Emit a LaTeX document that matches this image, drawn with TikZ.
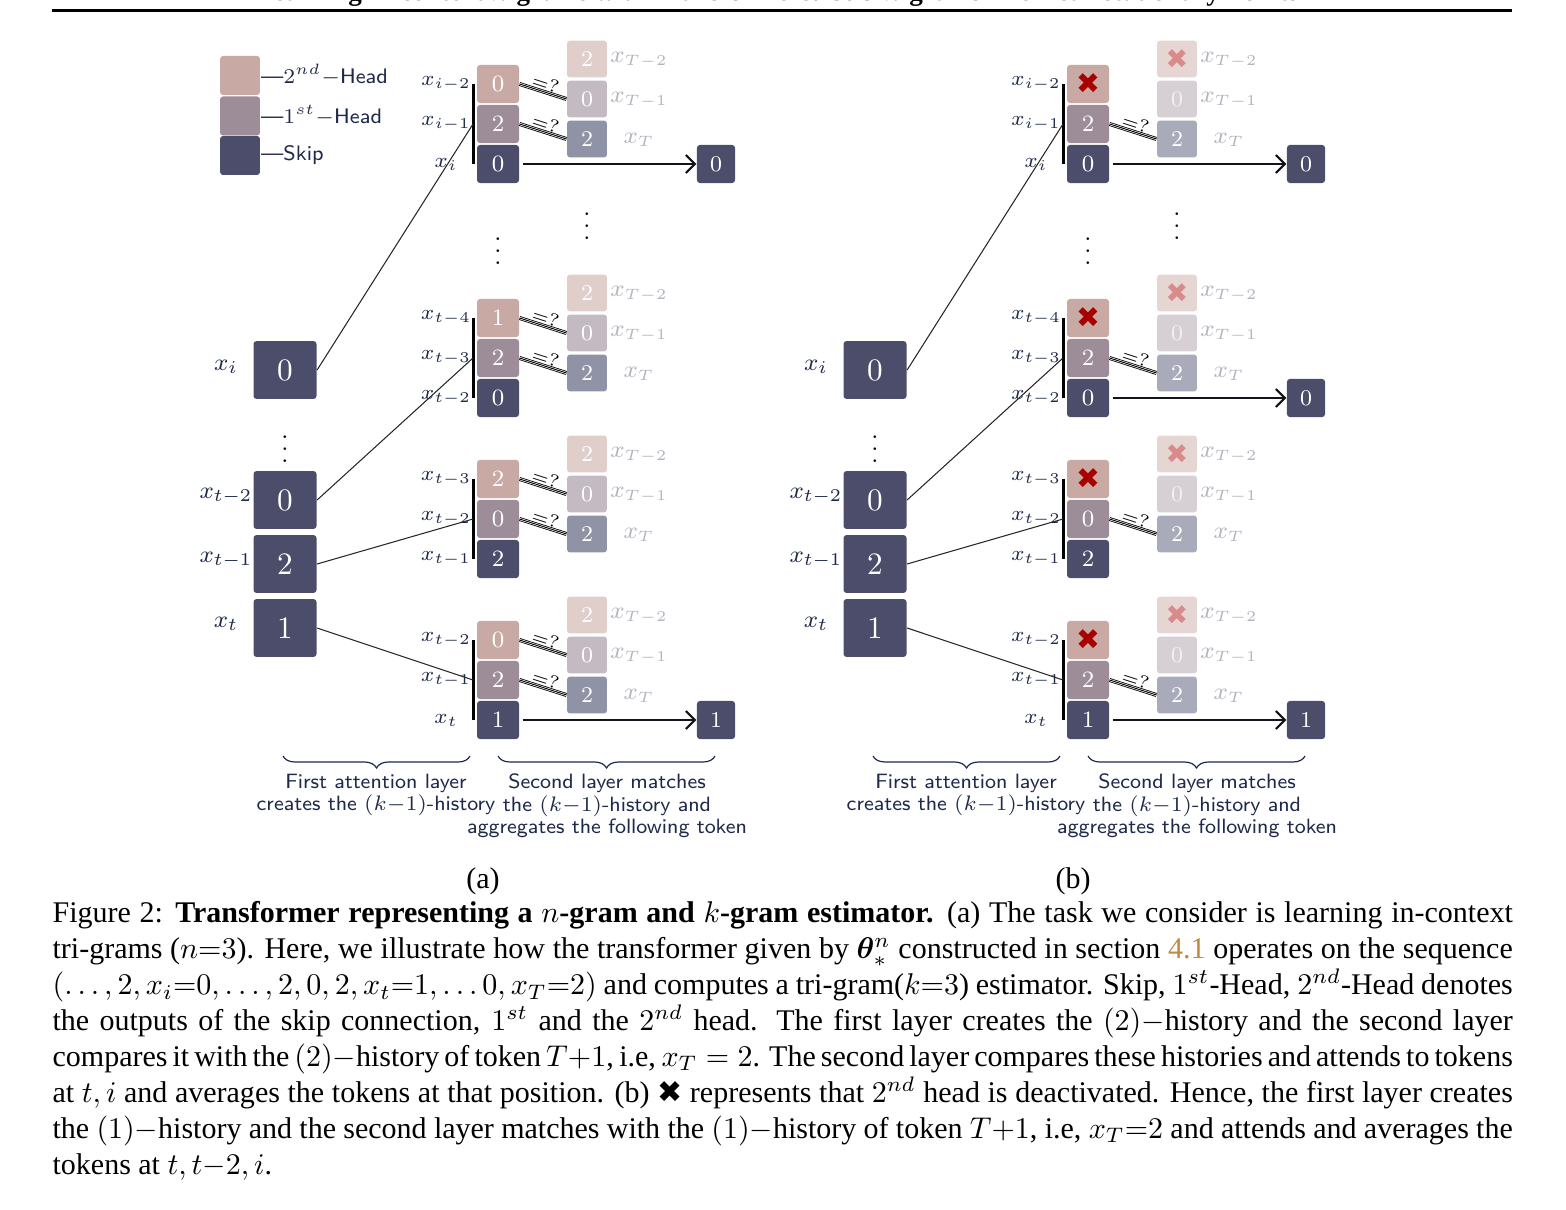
\documentclass[tikz,border=0pt]{standalone}
\usepackage{fontspec}
\usepackage{amsmath,bm}
\newfontfamily\capfont{Liberation Serif}
\newfontfamily\symfont{DejaVu Sans}
\usetikzlibrary{decorations.pathreplacing,arrows.meta}
\definecolor{headtwo}{HTML}{C8A9A3}
\definecolor{headone}{HTML}{9C8D98}
\definecolor{skipc}{HTML}{4B4D6A}
\definecolor{navy}{HTML}{1F2A4A}
\definecolor{qtwoa}{HTML}{E0CECB}
\definecolor{qonea}{HTML}{C4BBC2}
\definecolor{qskipa}{HTML}{9092A5}
\definecolor{qtwob}{HTML}{E5D6D4}
\definecolor{qoneb}{HTML}{D6CFD4}
\definecolor{qskipb}{HTML}{AAABBA}
\definecolor{xred}{HTML}{A80000}
\definecolor{xpink}{HTML}{D98A8A}
\definecolor{labgray}{HTML}{B4B4C0}
\definecolor{linkc}{HTML}{C08A3E}
\begin{document}
\begin{tikzpicture}[x=0.3333pt,y=-0.3333pt,
  box/.style={rounded corners=1pt, inner sep=0pt, text=white},
  mainbox/.style={box, minimum width=14pt, minimum height=12.7pt, font=\fontsize{7.8}{8}\selectfont},
  qbox/.style={box, minimum width=13.3pt, minimum height=12.3pt, font=\fontsize{7.5}{8}\selectfont},
  outbox/.style={box, fill=skipc, minimum width=12.7pt, minimum height=12.7pt, font=\fontsize{7.5}{8}\selectfont},
  seqbox/.style={box, fill=skipc, minimum width=21pt, minimum height=19.3pt, font=\fontsize{10.4}{12}\selectfont},
  keybox/.style={box, minimum width=13.3pt, minimum height=13pt},
  keylab/.style={anchor=west, inner sep=0pt, text=navy, font=\sffamily\fontsize{7}{8}\selectfont},
  lab/.style={text=navy, inner sep=0pt, font=\fontsize{7.4}{8}\selectfont},
  seqlab/.style={text=navy, inner sep=0pt, font=\fontsize{8.2}{9}\selectfont},
  qlab/.style={text=labgray, inner sep=0pt, font=\fontsize{7.8}{9}\selectfont},
  note/.style={text=navy, inner sep=0pt, font=\sffamily\fontsize{6.9}{7.5}\selectfont, align=center},
  hbar/.style={line width=1pt, black},
  link/.style={line width=0.35pt, black!85},
  match/.style={line width=1.3pt, black, postaction={draw=white, line width=0.75pt}, postaction={draw=black, line width=0.3pt}},
  eqq/.style={sloped, above, inner sep=0.6pt, font=\fontsize{6}{6}\selectfont},
  skiparrow/.style={line width=0.7pt, black!75!skipc, shorten <=1pt, -{Straight Barb[length=3pt,width=6pt]}},
  crossbig/.style={font=\symfont\fontsize{9.5}{10}\selectfont, text=xred},
  crossfade/.style={font=\symfont\fontsize{9}{10}\selectfont, text=xpink},
  brc/.style={decorate, decoration={brace, mirror, amplitude=4pt}, line width=0.4pt, navy},
  dots/.style={inner sep=0pt, font=\fontsize{8}{9}\selectfont}]
\useasboundingbox (0,0) rectangle (1566,1209);

% page head
\node[anchor=base, inner sep=0pt, font=\capfont\bfseries\fontsize{9}{10}\selectfont] (head) at (777,1)
  {Learning in-context $n$-grams with Transformers: Sub-$n$-grams Are Near-stationary Points};
\draw[line width=1pt] (52,11) -- (1512,11);

% legend
\node[keybox, fill=headtwo] (key2) at (240,75.5) {};
\node[keybox, fill=headone] (key1) at (240,116) {};
\node[keybox, fill=skipc] (key0) at (240,155.5) {};
\node[keylab] (key2t) at (key2.east) {---$2^{nd}-$Head};
\node[keylab] (key1t) at (key1.east) {---$1^{st}-$Head};
\node[keylab] (key0t) at (key0.east) {---Skip};

% ---------- (a) ----------
\node[seqbox] (aseq1) at (285,370) {0};
\node[seqbox] (aseq2) at (285,500) {0};
\node[seqbox] (aseq3) at (285,564) {2};
\node[seqbox] (aseq4) at (285,628) {1};
\node[seqlab] at (226,367) {$x_i$};
\node[seqlab] at (226,496) {$x_{t-2}$};
\node[seqlab] at (226,560) {$x_{t-1}$};
\node[seqlab] at (226,624) {$x_t$};
\node[dots] (adots0) at (285,440) {$\vdots$};
\node[dots] (adots1) at (498,242) {$\vdots$};
\node[dots] (adots2) at (587,217) {$\vdots$};

\foreach \s/\y/\va/\vb/\vc/\la/\lb/\lc in
  {1/84/0/2/0/{i-2}/{i-1}/{i}, 2/318/1/2/0/{t-4}/{t-3}/{t-2},
   3/479/2/0/2/{t-3}/{t-2}/{t-1}, 4/640/0/2/1/{t-2}/{t-1}/{t}}{
  \node[mainbox, fill=headtwo] (a\s h2) at (498,\y) {\va};
  \node[mainbox, fill=headone] (a\s h1) at (498,\y+40) {\vb};
  \node[mainbox, fill=skipc] (a\s sk) at (498,\y+80) {\vc};
  \node[lab] at (446,\y) {$x_{\la}$};
  \node[lab] at (446,\y+40) {$x_{\lb}$};
  \node[lab] at (446,\y+80) {$x_{\lc}$};
  \coordinate (a\s top) at (473,\y);
  \coordinate (a\s mid) at (473,\y+40);
  \coordinate (a\s bot) at (473,\y+80);
  \draw[hbar] (a\s top) -- (a\s bot);
  \node[qbox, fill=qtwoa] (a\s q2) at (587,\y-25) {2};
  \node[qbox, fill=qonea] (a\s q1) at (587,\y+15) {0};
  \node[qbox, fill=qskipa] (a\s q0) at (587,\y+55) {2};
  \node[qlab] at (639,\y-24) {$x_{T-2}$};
  \node[qlab] at (639,\y+16) {$x_{T-1}$};
  \node[qlab] at (639,\y+56) {$x_T$};
  \draw[match] (a\s h2.east) -- (a\s q1.west);
  \draw[match] (a\s h1.east) -- (a\s q0.west);
  \path (a\s h2.east) -- node[eqq] {$=?$} (a\s q1.west);
  \path (a\s h1.east) -- node[eqq] {$=?$} (a\s q0.west);
  \draw[link] (aseq\s.east) -- (a\s mid);
}
\node[outbox] (a1out) at (716,164) {0};
\node[outbox] (a4out) at (716,720) {1};
\draw[skiparrow] (a1sk.east) -- (a1out.west);
\draw[skiparrow] (a4sk.east) -- (a4out.west);

\draw[brc] (283,756) -- (470,756);
\draw[brc] (498,756) -- (715,756);
\node[note] (anote1) at (376,795) {First attention layer\\creates the $(k{-}1)$-history};
\node[note] (anote2) at (607,806) {Second layer matches\\the $(k{-}1)$-history and\\aggregates the following token};
\node[font=\capfont\fontsize{10}{12}\selectfont] (alab) at (483,881) {(a)};

% ---------- (b) ----------
\node[seqbox] (bseq1) at (875,370) {0};
\node[seqbox] (bseq2) at (875,500) {0};
\node[seqbox] (bseq3) at (875,564) {2};
\node[seqbox] (bseq4) at (875,628) {1};
\node[seqlab] at (816,367) {$x_i$};
\node[seqlab] at (816,496) {$x_{t-2}$};
\node[seqlab] at (816,560) {$x_{t-1}$};
\node[seqlab] at (816,624) {$x_t$};
\node[dots] (bdots0) at (875,440) {$\vdots$};
\node[dots] (bdots1) at (1088,242) {$\vdots$};
\node[dots] (bdots2) at (1177,217) {$\vdots$};

\foreach \s/\y/\vb/\vc/\la/\lb/\lc in
  {1/84/2/0/{i-2}/{i-1}/{i}, 2/318/2/0/{t-4}/{t-3}/{t-2},
   3/479/0/2/{t-3}/{t-2}/{t-1}, 4/640/2/1/{t-2}/{t-1}/{t}}{
  \node[mainbox, fill=headtwo, crossbig] (b\s h2) at (1088,\y) {✖};
  \node[mainbox, fill=headone] (b\s h1) at (1088,\y+40) {\vb};
  \node[mainbox, fill=skipc] (b\s sk) at (1088,\y+80) {\vc};
  \node[lab] at (1036,\y) {$x_{\la}$};
  \node[lab] at (1036,\y+40) {$x_{\lb}$};
  \node[lab] at (1036,\y+80) {$x_{\lc}$};
  \coordinate (b\s top) at (1063,\y);
  \coordinate (b\s mid) at (1063,\y+40);
  \coordinate (b\s bot) at (1063,\y+80);
  \draw[hbar] (b\s top) -- (b\s bot);
  \node[qbox, fill=qtwob, crossfade] (b\s q2) at (1177,\y-25) {✖};
  \node[qbox, fill=qoneb, text=white!70!qoneb] (b\s q1) at (1177,\y+15) {0};
  \node[qbox, fill=qskipb] (b\s q0) at (1177,\y+55) {2};
  \node[qlab] at (1229,\y-24) {$x_{T-2}$};
  \node[qlab] at (1229,\y+16) {$x_{T-1}$};
  \node[qlab] at (1229,\y+56) {$x_T$};
  \draw[match] (b\s h1.east) -- (b\s q0.west);
  \path (b\s h1.east) -- node[eqq] {$=?$} (b\s q0.west);
  \draw[link] (bseq\s.east) -- (b\s mid);
}
\node[outbox] (b1out) at (1306,164) {0};
\node[outbox] (b2out) at (1306,398) {0};
\node[outbox] (b4out) at (1306,720) {1};
\draw[skiparrow] (b1sk.east) -- (b1out.west);
\draw[skiparrow] (b2sk.east) -- (b2out.west);
\draw[skiparrow] (b4sk.east) -- (b4out.west);

\draw[brc] (873,756) -- (1060,756);
\draw[brc] (1088,756) -- (1305,756);
\node[note] (bnote1) at (966,795) {First attention layer\\creates the $(k{-}1)$-history};
\node[note] (bnote2) at (1197,806) {Second layer matches\\the $(k{-}1)$-history and\\aggregates the following token};
\node[font=\capfont\fontsize{10}{12}\selectfont] (blab) at (1073,881) {(b)};

% caption
\node[anchor=north west, inner sep=0pt, text width=486.7pt, align=justify,
      font=\capfont\fontsize{10}{11.97}\selectfont] (cap) at (52,901) {%
Figure 2: \textbf{Transformer representing a $n$-gram and $k$-gram estimator.} (a) The task we consider is learning in-context\linebreak
tri-grams ($n{=}3$). Here, we illustrate how the transformer given by $\bm{\theta}^n_*$ constructed in section {\color{linkc}4.1} operates on the sequence\linebreak
$(\dots,2,x_i{=}0,\dots,2,0,2,x_t{=}1,\dots0,x_T{=}2)$ and computes a tri-gram($k{=}3$) estimator. Skip, $1^{st}$-Head, $2^{nd}$-Head denotes\linebreak
the outputs of the skip connection, $1^{st}$ and the $2^{nd}$ head. The first layer creates the $(2)-$history and the second layer\linebreak
compares it with the $(2)-$history of token $T{+}1$, i.e, $x_T = 2$. The second layer compares these histories and attends to tokens\linebreak
at $t,i$ and averages the tokens at that position. (b) {\symfont ✖} represents that $2^{nd}$ head is deactivated. Hence, the first layer creates\linebreak
the $(1)-$history and the second layer matches with the $(1)-$history of token $T{+}1$, i.e, $x_T{=}2$ and attends and averages the\linebreak
tokens at $t,t{-}2,i$.};
\end{tikzpicture}
\end{document}
